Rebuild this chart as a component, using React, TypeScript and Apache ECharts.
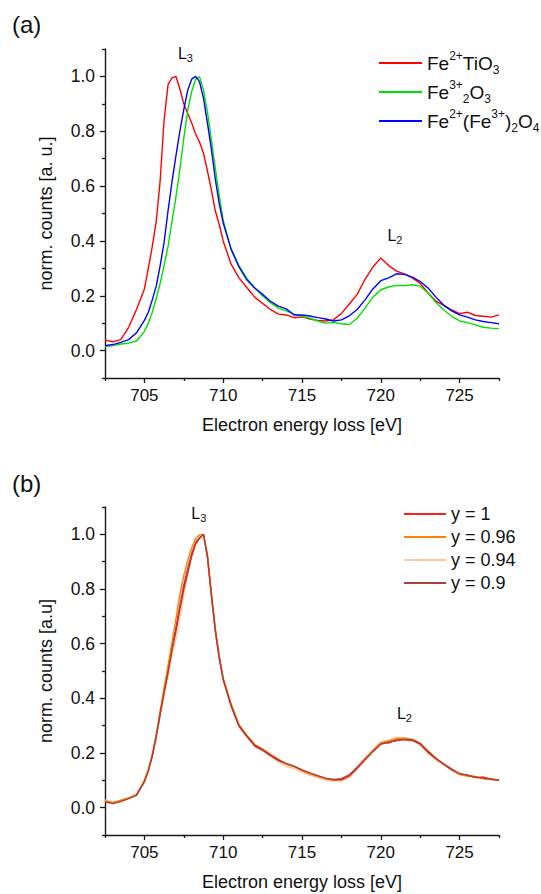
import React, { useEffect, useRef } from 'react';
import * as echarts from 'echarts';

const FONT = "'Liberation Sans', Arial, sans-serif";

// Energy grid (eV) shared by all spectra
const energy = [
  702.5, 703, 703.5, 704, 704.5, 705, 705.25, 705.5, 705.75, 706,
  706.25, 706.5, 706.75, 707, 707.25, 707.5, 707.75, 708, 708.25, 708.5,
  708.75, 709, 709.25, 709.5, 709.75, 710, 710.5, 711, 711.5, 712,
  712.5, 713, 713.5, 714, 714.5, 715, 715.5, 716, 716.5, 717,
  717.5, 718, 718.5, 719, 719.5, 720, 720.5, 721, 721.5, 722,
  722.5, 723, 723.5, 724, 724.5, 725, 725.5, 726, 726.5, 727, 727.5,
];

// Panel (a)
const feTiO3 = [
  0.038, 0.032, 0.040, 0.085, 0.150, 0.225, 0.300, 0.380, 0.470, 0.620,
  0.840, 0.970, 0.995, 1.000, 0.955, 0.900, 0.865, 0.830, 0.790, 0.760,
  0.720, 0.655, 0.585, 0.510, 0.460, 0.400, 0.315, 0.265, 0.230, 0.195,
  0.172, 0.150, 0.133, 0.130, 0.120, 0.123, 0.115, 0.110, 0.108, 0.112,
  0.135, 0.170, 0.205, 0.260, 0.305, 0.338, 0.310, 0.290, 0.280, 0.265,
  0.245, 0.210, 0.180, 0.165, 0.148, 0.135, 0.140, 0.128, 0.125, 0.122, 0.130,
];
const fe2O3 = [
  0.015, 0.018, 0.024, 0.027, 0.035, 0.070, 0.100, 0.140, 0.190, 0.245,
  0.310, 0.380, 0.470, 0.560, 0.660, 0.775, 0.875, 0.945, 0.990, 0.998,
  0.950, 0.870, 0.770, 0.665, 0.565, 0.475, 0.370, 0.310, 0.263, 0.228,
  0.200, 0.175, 0.155, 0.145, 0.133, 0.125, 0.118, 0.108, 0.100, 0.103,
  0.098, 0.095, 0.118, 0.155, 0.195, 0.222, 0.232, 0.238, 0.237, 0.240,
  0.235, 0.210, 0.175, 0.148, 0.125, 0.108, 0.102, 0.094, 0.085, 0.082, 0.080,
];
const fe3O4 = [
  0.018, 0.022, 0.030, 0.040, 0.065, 0.110, 0.140, 0.185, 0.235, 0.310,
  0.395, 0.510, 0.615, 0.710, 0.800, 0.880, 0.950, 0.990, 1.000, 0.980,
  0.920, 0.830, 0.735, 0.625, 0.535, 0.465, 0.370, 0.305, 0.258, 0.228,
  0.205, 0.180, 0.162, 0.152, 0.130, 0.130, 0.126, 0.120, 0.115, 0.108,
  0.112, 0.127, 0.150, 0.185, 0.225, 0.255, 0.265, 0.280, 0.278, 0.268,
  0.252, 0.228, 0.195, 0.165, 0.145, 0.130, 0.122, 0.112, 0.106, 0.102, 0.098,
];

// Panel (b)
const y100 = [
  0.020, 0.018, 0.025, 0.035, 0.047, 0.098, 0.137, 0.188, 0.262, 0.342,
  0.425, 0.500, 0.585, 0.660, 0.740, 0.815, 0.875, 0.930, 0.970, 0.988,
  1.000, 0.915, 0.775, 0.645, 0.545, 0.468, 0.372, 0.298, 0.260, 0.225,
  0.210, 0.190, 0.172, 0.160, 0.150, 0.137, 0.125, 0.115, 0.106, 0.103,
  0.106, 0.120, 0.148, 0.180, 0.208, 0.238, 0.236, 0.250, 0.248, 0.246,
  0.232, 0.202, 0.178, 0.158, 0.138, 0.122, 0.120, 0.110, 0.112, 0.104, 0.102,
];
const y096 = [
  0.025, 0.018, 0.027, 0.036, 0.048, 0.100, 0.140, 0.196, 0.268, 0.355,
  0.440, 0.520, 0.605, 0.690, 0.780, 0.850, 0.905, 0.950, 0.985, 0.998,
  1.000, 0.925, 0.785, 0.655, 0.555, 0.475, 0.380, 0.305, 0.265, 0.232,
  0.215, 0.195, 0.178, 0.158, 0.150, 0.135, 0.124, 0.115, 0.106, 0.100,
  0.101, 0.115, 0.143, 0.180, 0.210, 0.238, 0.245, 0.252, 0.255, 0.250,
  0.236, 0.208, 0.182, 0.158, 0.142, 0.122, 0.116, 0.114, 0.106, 0.103, 0.100,
];
const y094 = [
  0.028, 0.020, 0.024, 0.034, 0.050, 0.092, 0.130, 0.185, 0.252, 0.335,
  0.410, 0.480, 0.555, 0.615, 0.690, 0.775, 0.850, 0.915, 0.960, 0.985,
  1.000, 0.925, 0.785, 0.650, 0.550, 0.470, 0.378, 0.300, 0.265, 0.226,
  0.208, 0.188, 0.170, 0.150, 0.143, 0.130, 0.118, 0.110, 0.100, 0.098,
  0.097, 0.110, 0.140, 0.172, 0.205, 0.236, 0.245, 0.258, 0.252, 0.245,
  0.232, 0.200, 0.176, 0.156, 0.138, 0.120, 0.114, 0.110, 0.106, 0.102, 0.100,
];
const y090 = [
  0.022, 0.015, 0.022, 0.033, 0.045, 0.095, 0.135, 0.190, 0.260, 0.345,
  0.420, 0.495, 0.575, 0.645, 0.725, 0.800, 0.860, 0.920, 0.965, 0.985,
  1.000, 0.920, 0.780, 0.650, 0.550, 0.470, 0.375, 0.300, 0.262, 0.228,
  0.212, 0.193, 0.175, 0.162, 0.152, 0.138, 0.127, 0.117, 0.108, 0.102,
  0.103, 0.117, 0.145, 0.175, 0.205, 0.232, 0.240, 0.245, 0.250, 0.248,
  0.235, 0.205, 0.180, 0.160, 0.140, 0.125, 0.118, 0.112, 0.108, 0.105, 0.100,
];

// Axis ticks
const xRange = [702.5, 727.5];
const yRange = [-0.1, 1.1];
const xMajorTicks = [705, 710, 715, 720, 725];
const xMinorTicks = [702.5, 707.5, 712.5, 717.5, 722.5, 727.5];
const yMajorTicks = [0, 0.2, 0.4, 0.6, 0.8, 1.0];
const yMinorTicks = [-0.1, 0.1, 0.3, 0.5, 0.7, 0.9, 1.1];

const namesA = ['Fe2+TiO3', 'Fe3+2O3', 'Fe2+(Fe3+)2O4'];
const richNamesA: Record<string, string> = {
  'Fe2+TiO3': '{n|Fe}{sup|2+}{n|TiO}{sub|3}',
  'Fe3+2O3': '{n|Fe}{sup|3+}{sub|2}{n|O}{sub|3}',
  'Fe2+(Fe3+)2O4': '{n|Fe}{sup|2+}{n|(Fe}{sup|3+}{n|)}{sub|2}{n|O}{sub|4}',
};
const namesB = ['y = 1', 'y = 0.96', 'y = 0.94', 'y = 0.9'];

const AXIS_COLOR = '#1a1a1a';

function xMain(gridIndex: number) {
  return {
    type: 'value', gridIndex, min: xRange[0], max: xRange[1], position: 'bottom',
    name: 'Electron energy loss [eV]', nameLocation: 'middle', nameGap: 38,
    nameTextStyle: { fontFamily: FONT, fontSize: 18, color: '#111' },
    axisLine: { show: true, onZero: false, lineStyle: { color: AXIS_COLOR, width: 1.4 } },
    axisTick: { show: true, inside: false, length: 5, customValues: xMajorTicks, lineStyle: { color: AXIS_COLOR, width: 1.3 } },
    axisLabel: { customValues: xMajorTicks, margin: 9, fontFamily: FONT, fontSize: 17, color: '#111', formatter: (v: number) => String(v) },
    splitLine: { show: false },
  };
}
function xMinor(gridIndex: number) {
  return {
    type: 'value', gridIndex, min: xRange[0], max: xRange[1], position: 'bottom',
    axisLine: { show: false, onZero: false },
    axisTick: { show: true, inside: false, length: 3, customValues: xMinorTicks, lineStyle: { color: AXIS_COLOR, width: 1.3 } },
    axisLabel: { show: false }, splitLine: { show: false },
  };
}
function yMain(gridIndex: number, name: string) {
  return {
    type: 'value', gridIndex, min: yRange[0], max: yRange[1], position: 'left',
    name, nameLocation: 'middle', nameGap: 50,
    nameTextStyle: { fontFamily: FONT, fontSize: 18, color: '#111' },
    axisLine: { show: true, onZero: false, lineStyle: { color: AXIS_COLOR, width: 1.4 } },
    axisTick: { show: true, inside: false, length: 5, customValues: yMajorTicks, lineStyle: { color: AXIS_COLOR, width: 1.3 } },
    axisLabel: { customValues: yMajorTicks, margin: 10, fontFamily: FONT, fontSize: 17.5, color: '#111', formatter: (v: number) => v.toFixed(1) },
    splitLine: { show: false },
  };
}
function yMinor(gridIndex: number) {
  return {
    type: 'value', gridIndex, min: yRange[0], max: yRange[1], position: 'left',
    axisLine: { show: false, onZero: false },
    axisTick: { show: true, inside: false, length: 3, customValues: yMinorTicks, lineStyle: { color: AXIS_COLOR, width: 1.3 } },
    axisLabel: { show: false }, splitLine: { show: false },
  };
}

const pairs = (vals: number[]) => energy.map((e, i) => [e, vals[i]]);

const lRich = {
  l: { fontFamily: FONT, fontSize: 16, lineHeight: 20, color: '#111' },
  s: { fontFamily: FONT, fontSize: 11, lineHeight: 8, verticalAlign: 'bottom', color: '#111' },
};
function peakLabel(name: string, coord: number[], sub: string) {
  return {
    name, coord, symbol: 'circle', symbolSize: 1,
    itemStyle: { color: 'rgba(0,0,0,0)' },
    label: { show: true, position: 'inside', formatter: `{l|L}{s|${sub}}`, rich: lRich },
  };
}

function lineSeries(name: string, vals: number[], color: string, axisIndex: number, extra: any = {}) {
  return {
    type: 'line', name, data: pairs(vals), xAxisIndex: axisIndex, yAxisIndex: axisIndex,
    showSymbol: false, symbol: 'none', lineStyle: { color, width: 1.4 }, itemStyle: { color },
    ...extra,
  };
}

const option: any = {
  animation: false,
  backgroundColor: '#fff',
  grid: [
    { left: 105, top: 49, width: 394, height: 329 },
    { left: 105, top: 507, width: 394, height: 328 },
  ],
  xAxis: [xMain(0), xMinor(0), xMain(1), xMinor(1)].map((a, i) => ({ ...a, gridIndex: i < 2 ? 0 : 1 })),
  yAxis: [yMain(0, 'norm. counts [a. u.]'), yMinor(0), yMain(1, 'norm. counts [a.u]'), yMinor(1)].map((a, i) => ({ ...a, gridIndex: i < 2 ? 0 : 1 })),
  legend: [
    {
      data: namesA, orient: 'vertical', left: 379, top: 50, padding: 0,
      icon: 'rect', itemWidth: 43, itemHeight: 2, itemGap: 3,
      formatter: (n: string) => richNamesA[n],
      textStyle: {
        color: '#111', fontFamily: FONT, fontSize: 19,
        rich: {
          n: { fontFamily: FONT, fontSize: 19, lineHeight: 26, color: '#111' },
          sup: { fontFamily: FONT, fontSize: 12, lineHeight: 13, verticalAlign: 'top', color: '#111' },
          sub: { fontFamily: FONT, fontSize: 12, lineHeight: 10, verticalAlign: 'bottom', color: '#111' },
        },
      },
    },
    {
      data: namesB, orient: 'vertical', left: 404, top: 505, padding: 0,
      icon: 'rect', itemWidth: 42, itemHeight: 2, itemGap: 5,
      textStyle: { color: '#111', fontFamily: FONT, fontSize: 18, lineHeight: 18 },
    },
  ],
  series: [
    lineSeries('Fe2+TiO3', feTiO3, '#ff0000', 0, {
      markPoint: { data: [peakLabel('L3a', [707.6, 1.085], '3'), peakLabel('L2a', [720.9, 0.42], '2')] },
    }),
    lineSeries('Fe3+2O3', fe2O3, '#00e000', 0),
    lineSeries('Fe2+(Fe3+)2O4', fe3O4, '#0000ff', 0),
    lineSeries('y = 0.94', y094, '#ffc89c', 2),
    lineSeries('y = 1', y100, '#ff1e1e', 2),
    lineSeries('y = 0.96', y096, '#ff8000', 2),
    lineSeries('y = 0.9', y090, '#a8403c', 2, {
      markPoint: { data: [peakLabel('L3b', [708.45, 1.075], '3'), peakLabel('L2b', [721.5, 0.345], '2')] },
    }),
  ],
  graphic: [
    { type: 'text', left: 12, top: 12, style: { text: '(a)', fontFamily: FONT, fontSize: 24, fill: '#111' } },
    { type: 'text', left: 12, top: 471, style: { text: '(b)', fontFamily: FONT, fontSize: 24, fill: '#111' } },
  ],
};

export default function App() {
  const ref = useRef<HTMLDivElement>(null);
  useEffect(() => {
    if (!ref.current) return;
    const chart = echarts.init(ref.current, null, { renderer: 'svg' });
    chart.setOption(option);
    return () => chart.dispose();
  }, []);
  return (
    <div
      ref={ref}
      style={{ position: 'fixed', left: 0, top: 0, width: 541, height: 894, background: '#fff' }}
    />
  );
}
